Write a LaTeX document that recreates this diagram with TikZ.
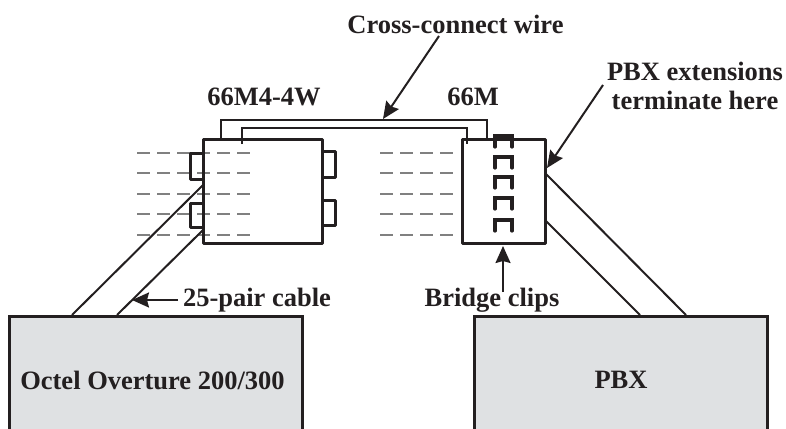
\documentclass[tikz,border=0pt]{standalone}
\usepackage{fontspec}
\setmainfont{Liberation Serif}
\usetikzlibrary{arrows.meta}
\definecolor{boxgray}{HTML}{DFE1E3}
\definecolor{inkblack}{HTML}{231F20}
\tikzset{
  blockbox/.style={draw=inkblack,line width=3pt,line join=round},
  grayblock/.style={draw=inkblack,line width=3.4pt,fill=boxgray},
  tabbox/.style={draw=inkblack,line width=3pt,line join=round},
  clipline/.style={draw=inkblack,line width=3.2pt,line cap=round},
  wire/.style={draw=inkblack,line width=1.9pt},
  cable/.style={draw=inkblack,line width=2pt},
  pairline/.style={draw=gray,line width=1.3pt,dash pattern=on 13.3pt off 6.7pt},
  callout/.style={draw=inkblack,line width=2pt,-{Stealth[length=17pt,width=15pt,inset=2pt]}},
  lbl/.style={font=\bfseries\fontsize{26.5}{29}\selectfont,text=inkblack,inner sep=0pt,align=center}
}
\begin{document}
\begin{tikzpicture}[x=1pt,y=-1pt]
\useasboundingbox (0,0) rectangle (786,428);
% punch-down lines
\foreach \ya in {153,173,194,214,235}{
  \draw[pairline] (137,\ya) -- (250,\ya);
  \draw[pairline] (380,\ya) -- (453,\ya);
}
% tabs on the left block
\draw[tabbox] (203,153) -| (190,179) -- (203,179);
\draw[tabbox] (203,203) -| (190,227) -- (203,227);
\draw[tabbox] (322,151) -- (335,151) |- (322,177);
\draw[tabbox] (322,200) -- (335,200) |- (322,225);
% blocks
\draw[blockbox] (203,139) rectangle (322,243);
\draw[blockbox] (462,139) rectangle (545,243);
\coordinate (leftA) at (203,185);
\coordinate (leftB) at (203,230);
\coordinate (rightA) at (545,173);
\coordinate (rightB) at (545,220);
\coordinate (octelA) at (72,315);
\coordinate (octelB) at (117,315);
\coordinate (pbxA) at (686,315);
\coordinate (pbxB) at (640,315);
% cables
\draw[cable] (leftA) -- (octelA);
\draw[cable] (leftB) -- (octelB);
\draw[cable] (rightA) -- (pbxA);
\draw[cable] (rightB) -- (pbxB);
% cross-connect wire
\draw[wire] (221,139) |- (487,120) -- (487,139);
\draw[wire] (242,144) |- (467,128) -- (467,144);
% bridge clips
\foreach \yc in {136,157,177,198,220}{
  \draw[clipline] (495,\yc+11) -- (495,\yc) -- (512,\yc) -- (512,\yc+11);
}
% equipment
\path[clip] (0,0) rectangle (786,428);
\node[grayblock,minimum width=293pt,minimum height=125pt,anchor=north west] (octel) at (8,315) {};
\node[grayblock,minimum width=293pt,minimum height=125pt,anchor=north west] (pbx) at (473,315) {};
\node[lbl] (octellbl) at (152.5,380) {Octel Overture 200/300};
\node[lbl] (pbxname) at (621,380) {PBX};
% labels
\node[lbl] (crosslbl) at (455.5,24) {Cross-connect wire};
\node[lbl] (leftlbl) at (264,97) {66M4-4W};
\node[lbl] (rightlbl) at (473,97) {66M};
\node[lbl] (pbxlbl) at (695,86) {PBX extensions\\terminate here};
\node[lbl] (cablelbl) at (257,300) {25-pair cable};
\node[lbl] (cliplbl) at (492,300) {Bridge clips};
% callouts
\coordinate (wirept) at (383,119);
\coordinate (pbxpt) at (547,168);
\coordinate (cablept) at (132,300);
\coordinate (clippt) at (503,246);
\coordinate (wiretail) at (439,36);
\coordinate (pbxtail) at (603,85);
\coordinate (cabletail) at (178,300);
\coordinate (cliptail) at (503,292);
\draw[callout] (wiretail) -- (wirept);
\draw[callout] (pbxtail) -- (pbxpt);
\draw[callout] (cabletail) -- (cablept);
\draw[callout] (cliptail) -- (clippt);
\end{tikzpicture}
\end{document}
